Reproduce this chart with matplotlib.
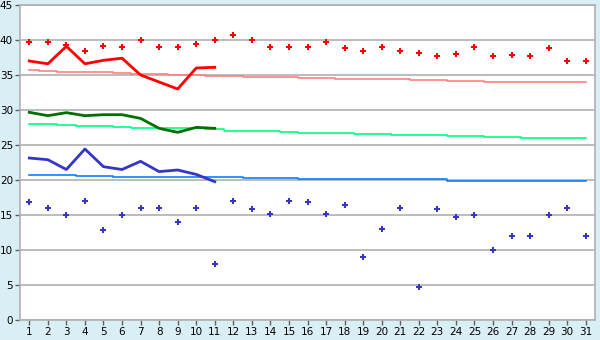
import matplotlib.pyplot as plt
import numpy as np

days = np.arange(1, 32)
days_obs = np.arange(1, 12)

# daily max / min markers
max_pts = [39.7, 39.7, 39.3, 38.4, 39.1, 39.0, 40.0, 39.0, 39.0, 39.5, 40.0,
           40.7, 40.0, 39.0, 39.0, 39.0, 39.7, 38.8, 38.5, 39.0, 38.4, 38.1,
           37.7, 37.95, 39.0, 37.7, 37.8, 37.7, 38.8, 37.0, 37.0]
min_pts = [16.8, 15.95, 14.95, 16.95, 12.8, 15.0, 16.0, 16.0, 13.95, 16.0, 7.95,
           17.0, 15.8, 15.2, 17.0, 16.8, 15.1, 16.5, 8.95, 12.95, 15.95, 4.67,
           15.8, 14.67, 15.0, 9.95, 11.95, 11.95, 15.0, 16.0, 11.95]

# observed lines (days 1-11)
obs_max = [37.0, 36.6, 39.1, 36.6, 37.1, 37.4, 35.0, 34.0, 33.0, 36.0, 36.1]
obs_mean = [29.67, 29.19, 29.62, 29.19, 29.33, 29.33, 28.8, 27.38, 26.81, 27.52, 27.38]
obs_min = [23.14, 22.9, 21.5, 24.43, 21.9, 21.5, 22.67, 21.2, 21.43, 20.8, 19.76]

# normals
norm_max = [35.7, 35.57, 35.43, 35.43, 35.43, 35.29, 35.14, 35.14, 35.0, 35.0, 34.86,
            34.86, 34.71, 34.71, 34.71, 34.57, 34.57, 34.43, 34.43, 34.43, 34.43,
            34.29, 34.29, 34.14, 34.14, 34.0, 34.0, 34.0, 34.0, 34.0, 34.0]
norm_mean = [27.95, 27.95, 27.81, 27.67, 27.67, 27.52, 27.38, 27.38, 27.38, 27.38,
             27.24, 26.95, 26.95, 26.95, 26.81, 26.67, 26.67, 26.67, 26.52, 26.52,
             26.38, 26.38, 26.38, 26.24, 26.24, 26.1, 26.1, 25.95, 25.95, 25.95, 25.95]
norm_min = [20.71, 20.71, 20.71, 20.57, 20.57, 20.43, 20.43, 20.43, 20.43, 20.43,
            20.43, 20.43, 20.29, 20.29, 20.29, 20.12, 20.12, 20.12, 20.12, 20.12,
            20.12, 20.12, 20.12, 19.9, 19.9, 19.9, 19.9, 19.9, 19.9, 19.9, 19.9]

bg = '#daeef6'
grid_c = '#b0b0b0'

fig = plt.figure(figsize=(6, 3.4), dpi=100, facecolor=bg)
ax = fig.add_axes([20 / 600, 20 / 340, 575 / 600, 315 / 340])
ax.set_facecolor('white')

ax.plot(days, norm_max, color='#ff8080', lw=1.2, drawstyle='steps-mid')
ax.plot(days, norm_mean, color='#00ff80', lw=1.2, drawstyle='steps-mid')
ax.plot(days, norm_min, color='#0a80ff', lw=1.2, drawstyle='steps-mid')

ax.plot(days_obs, obs_max, color='#ff0000', lw=2.0)
ax.plot(days_obs, obs_mean, color='#007000', lw=2.0)
ax.plot(days_obs, obs_min, color='#3535c8', lw=2.0)

ax.plot(days, max_pts, 'P', color='#ff0000', ms=5, mew=0)
ax.plot(days, min_pts, 'P', color='#3535c8', ms=5, mew=0)

ax.set_xlim(0.5, 31.5)
ax.set_ylim(0, 45)
ax.set_xticks(days)
ax.set_yticks(np.arange(0, 46, 5))
ax.yaxis.grid(True, color=grid_c, lw=1.2)
ax.set_axisbelow(True)
for s in ax.spines.values():
    s.set_color(grid_c)
    s.set_linewidth(1.2)
ax.tick_params(axis='both', colors='#606060', labelcolor='black', labelsize=7.5,
               length=3.5, width=1, pad=1.5)

fig.savefig('out.png', dpi=100, facecolor=bg)
